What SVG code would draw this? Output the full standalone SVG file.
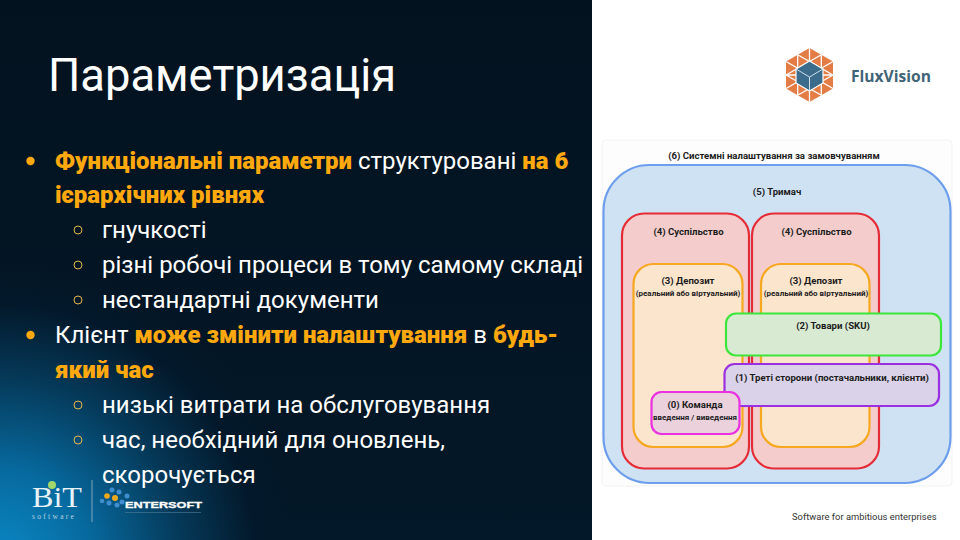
<svg xmlns="http://www.w3.org/2000/svg" width="960" height="540" viewBox="0 0 960 540">
<style>
text{font-family:Roboto,"Liberation Sans",sans-serif}
.b{font-size:24px;fill:#fff}
.o{font-weight:900;fill:#ffa90f}
.d{font-size:9.600px;font-weight:700;fill:#1c1c1c;text-anchor:middle}
.s{font-size:8px;font-weight:700;fill:#1c1c1c;text-anchor:middle}
.r{stroke-width:2.2}
.w{stroke:#fff;stroke-width:1.300;fill:none}
.ring{fill:none;stroke:#e0b84a;stroke-width:1}
</style>
<defs>
<radialGradient id="bg" gradientUnits="userSpaceOnUse" cx="0" cy="560" r="300">
<stop offset="0" stop-color="#0a88c4"/><stop offset=".3" stop-color="#076a9f"/><stop offset=".6" stop-color="#053a5a"/><stop offset=".85" stop-color="#03192b"/><stop offset="1" stop-color="#03192b" stop-opacity="0"/>
</radialGradient>
<linearGradient id="base" x1="0" y1="0" x2="0" y2="1"><stop offset="0" stop-color="#03121f"/><stop offset="1" stop-color="#031828"/></linearGradient>
</defs>
<rect width="960" height="540" fill="#fff"/>
<rect width="592" height="540" fill="url(#base)"/>
<rect width="592" height="540" fill="url(#bg)"/>
<g id="title"><text x="48" y="91" font-size="45.300" fill="#fff">Параметризація</text></g>
<g id="bullets">
<circle cx="30.500" cy="161" r="4.200" fill="#ffa90f"/>
<text class="b" x="55" y="168.500"><tspan class="o" textLength="297">Функціональні параметри</tspan> структуровані <tspan class="o">на 6</tspan></text>
<text class="b o" x="55" y="203">ієрархічних рівнях</text>
<circle class="ring" cx="78" cy="230" r="4"/>
<text class="b" x="102" y="238">гнучкості</text>
<circle class="ring" cx="78" cy="265" r="4"/>
<text class="b" x="102" y="273">різні робочі процеси в тому самому складі</text>
<circle class="ring" cx="78" cy="300" r="4"/>
<text class="b" x="102" y="308">нестандартні документи</text>
<circle cx="30.500" cy="335" r="4.200" fill="#ffa90f"/>
<text class="b" x="55" y="343">Клієнт <tspan class="o">може змінити налаштування</tspan> в <tspan class="o">будь-</tspan></text>
<text class="b o" x="55" y="378">який час</text>
<circle class="ring" cx="78" cy="405" r="4"/>
<text class="b" x="102" y="413">низькі витрати на обслуговування</text>
<circle class="ring" cx="78" cy="440" r="4"/>
<text class="b" x="102" y="448">час, необхідний для оновлень,</text>
<text class="b" x="102" y="483">скорочується</text>
</g>
<g id="logo-bit">
<text x="32" y="506.500" font-size="29" fill="#e8f2f8" textLength="50" lengthAdjust="spacingAndGlyphs" style="font-family:'Liberation Serif',serif">BiT</text>
<circle cx="52" cy="485" r="4" fill="#a5d86a"/>
<text x="32" y="519.400" font-size="7.500" letter-spacing="2.300" fill="#b9d2e0" style="font-family:'Liberation Serif',serif">software</text>
<rect x="91.500" y="480" width="1" height="42" fill="#7fa6bc"/>
</g>
<g id="logo-entersoft">
<g fill="#3f8fd0"><circle cx="112" cy="490" r="2.500"/><circle cx="119" cy="492" r="2.500"/><circle cx="127" cy="496" r="2.500"/><circle cx="102" cy="501" r="2.300"/><circle cx="109" cy="503" r="2.500"/><circle cx="122" cy="502" r="2.500"/><circle cx="117" cy="505" r="2.500"/></g>
<g fill="#f0a91e"><circle cx="107" cy="496" r="2.800"/><circle cx="115" cy="498" r="3"/></g>
<text x="125" y="508" font-size="8.500" font-weight="700" fill="#fff" stroke="#fff" stroke-width=".3" textLength="77" lengthAdjust="spacingAndGlyphs" style="font-family:'Liberation Sans',sans-serif">ENTERSOFT</text>
<rect x="125" y="512" width="76" height=".6" fill="#4f7f99"/>
</g>
<g id="logo-fluxvision">
<polygon points="809.500,48 833,61.500 833,88.500 809.500,102 786,88.500 786,61.500" fill="#e37c45"/>
<path class="w" d="M809.500,48V62M786,61.500L809.500,75M833,61.500L809.500,75M786,88.500L809.500,75M833,88.500L809.500,75M809.500,102V88M797.700,54.700V95.300M821.300,54.700V95.300M786,75H833M797.700,54.700L833,75M821.300,54.700L786,75M797.700,95.300L833,75M821.300,95.300L786,75"/>
<polygon points="809.500,61 823,69 823,83 809.500,91 796,83 796,69" fill="#3b6c8c" stroke="#fff" stroke-width="1.200"/>
<path d="M796,69L809.500,77L823,69M809.500,77V91" stroke="#cfe0ea" stroke-width="1" fill="none"/>
<text x="851" y="82" font-size="15.500" font-weight="700" fill="#3f6478" textLength="80" lengthAdjust="spacingAndGlyphs" style="font-family:'Open Sans',sans-serif">FluxVision</text>
</g>
<g id="panel"><rect x="602" y="140" width="350" height="346" rx="4" fill="#fdfdfd" stroke="#f2f2f2"/></g>
<g id="n6"><rect class="r" x="603.500" y="165" width="347" height="318" rx="46" fill="#cfe2f3" stroke="#6d9eeb"/>
<text class="d" x="774" y="158.500">(6) Системні налаштування за замовчуванням</text></g>
<g id="n5"><text class="d" x="777" y="195">(5) Тримач</text></g>
<g id="n4a"><rect class="r" x="622" y="213.500" width="127" height="255" rx="22" fill="#f4cccc" stroke="#e52b36"/>
<text class="d" x="688.500" y="235">(4) Суспільство</text></g>
<g id="n4b"><rect class="r" x="752" y="213.500" width="127" height="255" rx="22" fill="#f4cccc" stroke="#e52b36"/>
<text class="d" x="816.500" y="235">(4) Суспільство</text></g>
<g id="n3a"><rect class="r" x="633.500" y="264" width="109" height="183" rx="20" fill="#fce5cd" stroke="#f6a821"/>
<text class="d" x="688" y="284">(3) Депозит</text><text class="s" x="688" y="296">(реальний або віртуальний)</text></g>
<g id="n3b"><rect class="r" x="761" y="264" width="108.500" height="183" rx="20" fill="#fce5cd" stroke="#f6a821"/>
<text class="d" x="816" y="284">(3) Депозит</text><text class="s" x="816" y="296">(реальний або віртуальний)</text></g>
<g id="n2"><rect class="r" x="726" y="313.500" width="215" height="42" rx="10" fill="#d9ead3" stroke="#3de63d"/>
<text class="d" x="833" y="329">(2) Товари (SKU)</text></g>
<g id="n1"><rect class="r" x="724.500" y="364" width="214.500" height="42" rx="10" fill="#d9d2e9" stroke="#9a30e0"/>
<text class="d" x="832" y="381">(1) Треті сторони (постачальники, клієнти)</text></g>
<g id="n0"><rect class="r" x="651.500" y="392" width="88" height="42" rx="10" fill="#ead1dc" stroke="#ea30e0"/>
<text class="d" x="695" y="407.500">(0) Команда</text><text class="s" x="695" y="420">введення / виведення</text></g>
<g id="connectors"></g>
<g id="footer"><text x="792" y="520" font-size="9.400" fill="#333">Software for ambitious enterprises</text></g>
</svg>
